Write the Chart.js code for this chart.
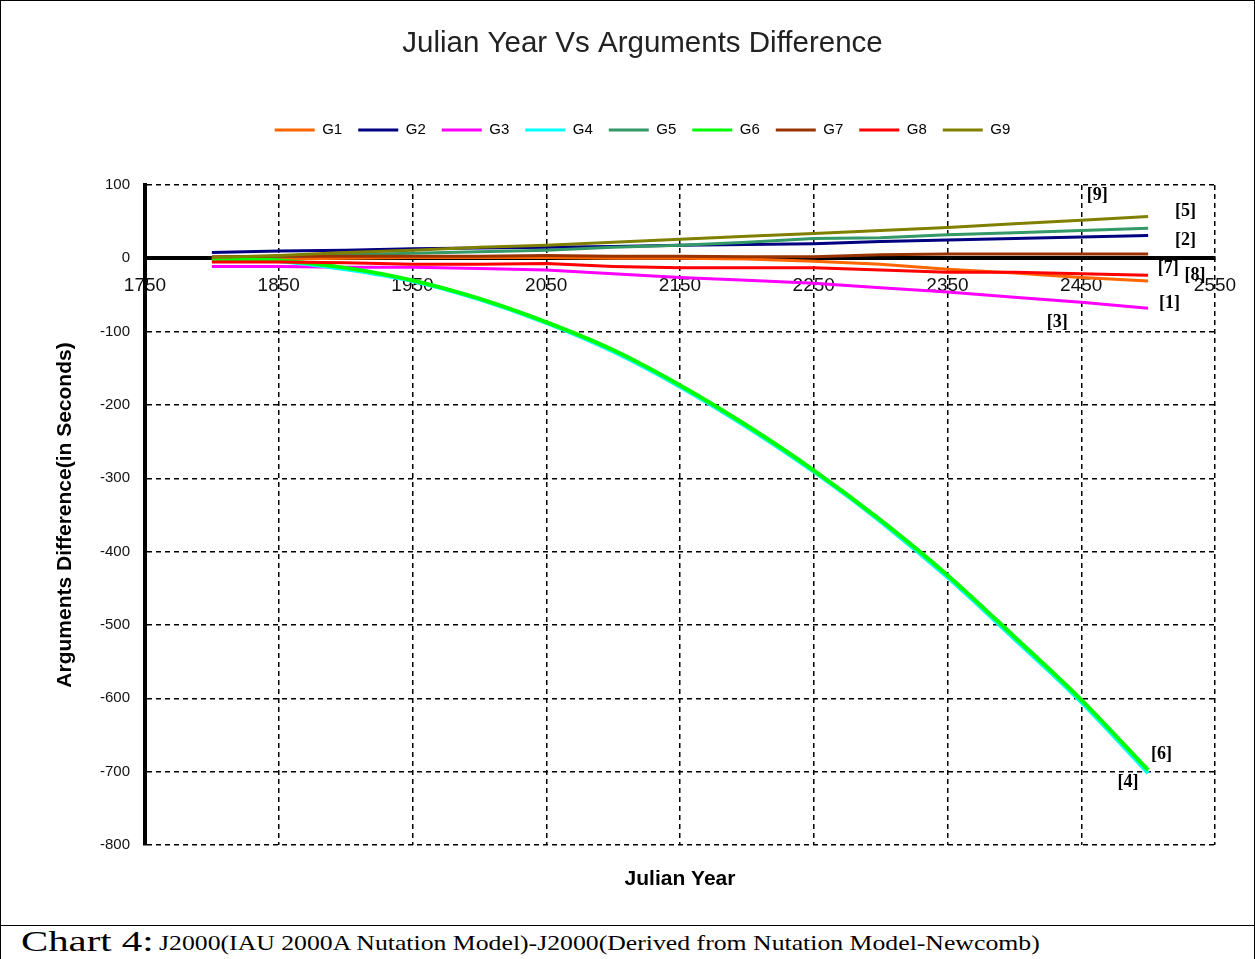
<!DOCTYPE html>
<html>
<head>
<meta charset="utf-8">
<script src="https://cdn.jsdelivr.net/npm/chart.js@4/dist/chart.umd.min.js"></script>
<style>
  html, body { margin: 0; padding: 0; background: #fff; }
  #frame { position: absolute; left: 0; top: 0; width: 1253px; height: 924px; border: 1px solid #000; }
  #caption { position: absolute; left: 0; top: 926px; width: 1253px; height: 33px; border-left: 1px solid #000; border-right: 1px solid #000;
             font-family: "Liberation Serif", "Times New Roman", serif; color: #000; white-space: nowrap; overflow: hidden; }
  #caption .big { position: absolute; left: 20px; top: -2px; font-size: 30px; display: inline-block; transform: scaleX(1.36); transform-origin: 0 50%; }
  #caption .small { position: absolute; left: 158px; top: 4px; font-size: 22px; display: inline-block; transform: scaleX(1.17); transform-origin: 0 50%; }
</style>
</head>
<body>
<div id="frame"><canvas id="c" width="1253" height="924"></canvas></div>
<div id="caption"><span class="big">Chart 4:</span><span class="small">J2000(IAU 2000A Nutation Model)-J2000(Derived from Nutation Model-Newcomb)</span></div>
<script>
// ---- data ----
const years = [1800, 1850, 1900, 1950, 2000, 2050, 2100, 2150, 2200, 2250, 2300, 2350, 2400, 2450, 2500];
const G1 = [-2, -1, 0, 1, 1, 1, 0, 0, -1, -4, -8, -15, -20, -26, -31];
const G2 = [8, 10, 11, 13, 14, 15, 16, 18, 19, 20, 23, 25, 27, 29, 31];
const G3 = [-11, -11, -12, -12, -14, -16, -21, -26, -30, -34, -40, -46, -53, -60, -68];
const G4 = [-2, -4, -15, -31, -56, -88, -127, -175, -230, -291, -359, -435, -519, -605, -702];
const G5 = [0, 2, 5, 7, 9, 11, 15, 18, 22, 27, 28, 32, 35, 38, 41];
const G6 = [-1, -3, -13, -30, -55, -87, -125, -173, -228, -289, -357, -432, -516, -602, -698];
const G7 = [2, 3, 3, 3, 3, 4, 3, 3, 2, 2, 5, 6, 6, 6, 6];
const G8 = [-5, -5, -6, -8, -8, -7, -11, -13, -13, -13, -16, -19, -19, -21, -23];
const G9 = [1, 4, 8, 11, 15, 18, 22, 26, 30, 34, 38, 42, 47, 52, 57];
const seriesNames = ['G1', 'G2', 'G3', 'G4', 'G5', 'G6', 'G7', 'G8', 'G9'];
const seriesValues = [G1, G2, G3, G4, G5, G6, G7, G8, G9];
const seriesColors = ['#FF6600', '#000080', '#FF00FF', '#00FFFF', '#339966', '#00FF00', '#993300', '#FF0000', '#808000'];
const yTicks = [100, 0, -100, -200, -300, -400, -500, -600, -700, -800];
const xTicks = [1750, 1850, 1950, 2050, 2150, 2250, 2350, 2450, 2550];
// point labels shown near the series ends: [text, year, value]
const endLabels = [
  ['[9]', 2462, 86], ['[5]', 2528, 64], ['[2]', 2528, 25], ['[7]', 2515, -14], ['[8]', 2535, -23],
  ['[1]', 2516, -61], ['[3]', 2432, -87], ['[6]', 2510, -677], ['[4]', 2485, -715]
];

const datasets = seriesNames.map((name, i) => ({
  label: name,
  data: years.map((yr, j) => ({x: yr, y: seriesValues[i][j]})),
  borderColor: seriesColors[i],
  backgroundColor: seriesColors[i],
  borderWidth: (name === 'G6' || name === 'G4') ? 4 : 3,
  pointRadius: 0,
  tension: 0,
  order: seriesNames.length - i,
  cubicInterpolationMode: (name === 'G6' || name === 'G4') ? 'monotone' : 'default'
}));

const endLabelPlugin = {
  id: 'endLabels',
  afterDatasetsDraw(chart) {
    const {ctx, scales: {x, y}} = chart;
    ctx.save();
    ctx.font = "bold 18px 'Liberation Serif', serif";
    ctx.fillStyle = '#000';
    ctx.textAlign = 'center';
    ctx.textBaseline = 'middle';
    endLabels.forEach(([t, yr, v]) => ctx.fillText(t, x.getPixelForValue(yr), y.getPixelForValue(v)));
    ctx.restore();
  }
};

const font = "'Liberation Sans', Arial, sans-serif";

new Chart(document.getElementById('c'), {
  type: 'line',
  data: {datasets},
  plugins: [endLabelPlugin],
  options: {
    responsive: false,
    animation: false,
    events: [],
    layout: {padding: {left: 30, right: 0, top: 0, bottom: 0}},
    plugins: {
      title: {
        display: true,
        text: 'Julian Year Vs Arguments Difference',
        color: '#222',
        font: {family: font, size: 29.5, weight: 'normal'},
        padding: {top: 25.3, bottom: 44.8}
      },
      legend: {
        display: true,
        position: 'top',
        labels: {
          color: '#000',
          font: {family: font, size: 15},
          boxWidth: 40,
          boxHeight: 3,
          padding: 16,
          sort: (a, b) => a.datasetIndex - b.datasetIndex,
          generateLabels(chart) {
            return Chart.defaults.plugins.legend.labels.generateLabels(chart)
              .map(l => Object.assign(l, {lineWidth: 0, fillStyle: l.strokeStyle}));
          }
        }
      },
      tooltip: {enabled: false}
    },
    scales: {
      x: {
        type: 'linear',
        position: {y: 0},
        min: 1750, max: 2550,
        afterBuildTicks: (s) => { s.ticks = xTicks.map(v => ({value: v})); },
        ticks: {color: '#111', font: {family: font, size: 19}, padding: 16, autoSkip: false, maxRotation: 0,
                callback: (v) => String(v)},
        grid: {color: '#000', lineWidth: 1.5, drawTicks: false},
        border: {display: true, color: '#000', width: 4, dash: [5, 4]},
      },
      xTitle: {
        type: 'linear', position: 'bottom', min: 0, max: 1,
        ticks: {display: false}, grid: {display: false}, border: {display: false},
        title: {display: true, text: 'Julian Year', color: '#000', font: {family: font, size: 21, weight: 'bold'}, padding: {top: 0, bottom: 33}},
        afterFit: (s) => { s.height = 80; }
      },
      xSpace: {
        type: 'linear', position: 'top', min: 0, max: 1,
        ticks: {display: false}, grid: {display: false}, border: {display: false},
        afterFit: (s) => { s.height = 37.5; }
      },
      y: {
        type: 'linear',
        position: 'left',
        min: -800, max: 100,
        afterBuildTicks: (s) => { s.ticks = yTicks.map(v => ({value: v})); },
        ticks: {color: '#111', font: {family: font, size: 15}, padding: 15},
        grid: {color: '#000', lineWidth: 1.5, drawTicks: false},
        border: {display: true, color: '#000', width: 4, dash: [5, 4]},
        title: {display: true, text: 'Arguments Difference(in Seconds)', color: '#000', font: {family: font, size: 21, weight: 'bold'}, padding: {top: 22, bottom: 0}},
        afterFit: (s) => { s.width = 114; }
      },
      ySpace: {
        type: 'linear', position: 'right', min: 0, max: 1,
        ticks: {display: false}, grid: {display: false}, border: {display: false},
        afterFit: (s) => { s.width = 39; }
      }
    }
  }
});
</script>
</body>
</html>
